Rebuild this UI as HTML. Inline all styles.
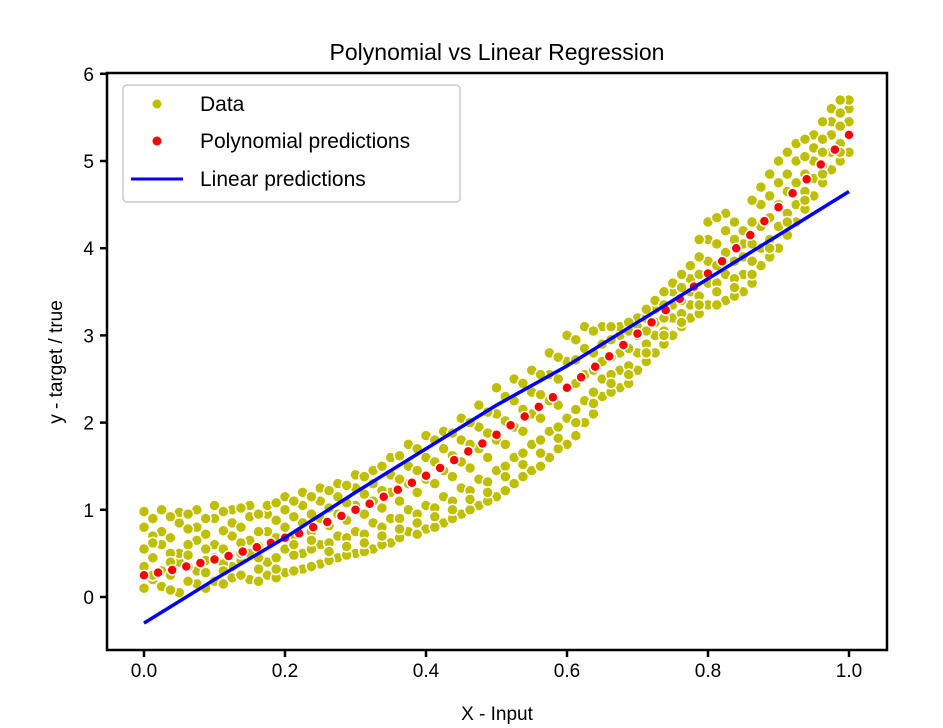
<!DOCTYPE html>
<html><head><meta charset="utf-8">
<style>
html,body{margin:0;padding:0;background:#fff;}
svg{display:block;font-family:"Liberation Sans",sans-serif;}
</style></head>
<body>
<svg id="chart" width="943" height="728" viewBox="0 0 943 728" xmlns="http://www.w3.org/2000/svg">
<rect width="943" height="728" fill="#fff"/>
<text x="497" y="60" font-size="23" text-anchor="middle" fill="#000">Polynomial vs Linear Regression</text>
<g id="plot"></g>
<rect x="107" y="73" width="780" height="577" fill="none" stroke="#000" stroke-width="2.5"/>
<g id="axes"></g>
<text x="497" y="720" font-size="19" text-anchor="middle">X - Input</text>
<text transform="translate(62,362) rotate(-90)" font-size="19" text-anchor="middle">y - target / true</text>
<g>
<rect x="123" y="85" width="337" height="117" rx="4" fill="#fff" fill-opacity="0.85" stroke="#ccc" stroke-width="1.5"/>
<circle cx="157" cy="104" r="5" fill="#bfbf00" stroke="#fff"/>
<text x="200" y="111" font-size="21">Data</text>
<circle cx="157" cy="141" r="5" fill="#ff0000" stroke="#fff"/>
<text x="200" y="148" font-size="21">Polynomial predictions</text>
<line x1="131" y1="179" x2="183" y2="179" stroke="#0000ff" stroke-width="3"/>
<text x="200" y="186" font-size="21">Linear predictions</text>
</g>
</svg>
<script>
const dataX = [0,0.025,0.05,0.075,0.1,0.125,0.15,0.175,0.2,0.225,0.25,0.275,0.3,0.325,0.35,0.375,0.4,0.425,0.45,0.475,0.5,0.525,0.55,0.575,0.6,0.625,0.65,0.675,0.7,0.725,0.75,0.775,0.8,0.825,0.85,0.875,0.9,0.925,0.95,0.975,1.0];
const dataY = [
[0.1,0.35,0.55,0.8,0.98],[0.12,0.3,0.6,0.75,1.0],[0.05,0.4,0.5,0.85,0.97],[0.15,0.3,0.65,0.8,1.0],
[0.18,0.45,0.6,0.9,1.05],[0.22,0.35,0.7,0.85,1.0],[0.2,0.5,0.65,0.92,1.05],[0.25,0.4,0.75,0.95,1.05],
[0.28,0.55,0.8,1.0,1.15],[0.32,0.5,0.85,1.05,1.2],[0.38,0.6,0.9,1.1,1.25],[0.45,0.7,0.95,1.15,1.3],
[0.5,0.75,1.05,1.25,1.4],[0.55,0.85,1.1,1.3,1.45],[0.62,0.9,1.2,1.4,1.6],[0.75,1.0,1.3,1.5,1.75],
[0.78,1.05,1.35,1.6,1.85],[0.85,1.15,1.45,1.7,1.9],[0.95,1.25,1.55,1.8,2.05],[1.05,1.35,1.7,1.95,2.2],
[1.15,1.45,1.8,2.1,2.4],[1.3,1.6,1.95,2.25,2.5],[1.45,1.75,2.1,2.35,2.6],[1.6,1.9,2.25,2.55,2.8],
[1.75,2.05,2.4,2.7,3.0],[2.0,2.25,2.55,2.85,3.1],[2.3,2.5,2.7,2.9,3.1],[2.4,2.6,2.8,3.0,3.1],
[2.6,2.8,3.0,3.1,3.2],[2.8,3.0,3.15,3.3,3.4],[3.0,3.2,3.35,3.5,3.6],[3.2,3.35,3.5,3.65,3.8],
[3.35,3.6,3.85,4.1,4.3],[3.4,3.7,3.95,4.2,4.4],[3.5,3.7,3.9,4.05,4.2],[3.8,4.0,4.25,4.5,4.7],
[4.0,4.25,4.5,4.75,5.0],[4.3,4.5,4.75,5.0,5.2],[4.6,4.8,5.0,5.15,5.3],[4.9,5.1,5.3,5.45,5.6],[5.1,5.3,5.45,5.6,5.7]];
const dataX2 = [0.0125,0.0375,0.0625,0.0875,0.1125,0.1375,0.1625,0.1875,0.2125,0.2375,0.2625,0.2875,0.3125,0.3375,0.3625,0.3875,0.4125,0.4375,0.4625,0.4875,0.5125,0.5375,0.5625,0.5875,0.6125,0.6375,0.6625,0.6875,0.7125,0.7375,0.7625,0.7875,0.8125,0.8375,0.8625,0.8875,0.9125,0.9375,0.9625,0.9875];
const dataY2 = [
[0.2,0.45,0.7,0.9,0.25,0.62],[0.08,0.25,0.5,0.68,0.92,0.4],[0.18,0.35,0.6,0.78,0.95,0.48],[0.1,0.28,0.55,0.72,0.9,0.42],
[0.15,0.38,0.55,0.76,0.98,0.3],[0.25,0.42,0.62,0.8,1.02,0.5],[0.18,0.32,0.58,0.75,0.95,0.45],[0.22,0.45,0.68,0.88,1.08,0.32],
[0.3,0.48,0.7,0.92,1.1,0.6],[0.35,0.55,0.75,0.95,1.15,0.65],[0.42,0.62,0.82,1.02,1.22,0.52],[0.48,0.68,0.88,1.08,1.28,0.58],
[0.52,0.72,0.95,1.18,1.38,0.62],[0.6,0.8,1.02,1.22,1.5,0.7],[0.68,0.9,1.1,1.35,1.62,0.78],[0.72,0.95,1.2,1.45,1.7,0.85],
[0.8,1.02,1.3,1.55,1.8,0.92],[0.9,1.1,1.38,1.62,1.88,1.0],[1.0,1.22,1.48,1.75,2.0,1.12],[1.1,1.32,1.6,1.88,2.12,1.2],
[1.22,1.5,1.75,2.02,2.3,1.38],[1.38,1.65,1.9,2.15,2.45,1.52],[1.5,1.8,2.05,2.32,2.55,1.65],[1.7,1.95,2.2,2.5,2.75,1.82],
[1.85,2.15,2.45,2.72,2.95,2.0],[2.1,2.35,2.6,2.8,3.05,2.22],[2.35,2.55,2.75,2.95,3.1,2.45],[2.45,2.65,2.85,3.05,3.15,2.55],
[2.7,2.9,3.05,3.2,3.3,2.8],[2.9,3.05,3.2,3.35,3.5,3.0],[3.1,3.25,3.4,3.55,3.7,3.15],[3.25,3.45,3.7,3.9,4.1,3.35],
[3.35,3.6,3.8,4.05,4.35,3.5],[3.45,3.65,3.85,4.1,4.3,3.55],[3.6,3.85,4.05,4.3,4.55,3.7],[3.9,4.1,4.35,4.6,4.85,4.0],
[4.15,4.4,4.65,4.85,5.1,4.3],[4.45,4.65,4.85,5.05,5.25,4.55],[4.75,4.95,5.1,5.25,5.45,4.85],[5.0,5.2,5.4,5.55,5.7,5.1]];
const polyX = [0,0.02,0.04,0.06,0.08,0.1,0.12,0.14,0.16,0.18,0.2,0.22,0.24,0.26,0.28,0.3,0.32,0.34,0.36,0.38,0.4,0.42,0.44,0.46,0.48,0.5,0.52,0.54,0.56,0.58,0.6,0.62,0.64,0.66,0.68,0.7,0.72,0.74,0.76,0.78,0.8,0.82,0.84,0.86,0.88,0.9,0.92,0.94,0.96,0.98,1.0];
const polyY = [0.25,0.28,0.31,0.35,0.39,0.43,0.47,0.52,0.57,0.62,0.68,0.73,0.8,0.86,0.93,1.0,1.07,1.15,1.23,1.31,1.39,1.48,1.57,1.67,1.76,1.86,1.97,2.07,2.18,2.29,2.4,2.52,2.64,2.76,2.89,3.02,3.15,3.29,3.42,3.56,3.71,3.85,4.0,4.15,4.31,4.47,4.63,4.79,4.96,5.13,5.3];
const linX = [0,0.1,0.2,0.3,0.4,0.5,0.6,0.7,0.8,0.9,1.0];
const linY = [-0.3,0.2,0.68,1.2,1.7,2.2,2.65,3.15,3.65,4.15,4.65];
const xTicks = [0,0.2,0.4,0.6,0.8,1.0];
const xTickLabels = ["0.0","0.2","0.4","0.6","0.8","1.0"];
const yTicks = [0,1,2,3,4,5,6];
const yTickLabels = ["0","1","2","3","4","5","6"];

const NS = "http://www.w3.org/2000/svg";
const xs = v => 144 + 705 * v;
const ys = v => 597 - 87.2 * v;
const plot = document.getElementById('plot');
const axes = document.getElementById('axes');
function mk(tag, attrs, parent){ const e = document.createElementNS(NS, tag); for (const k in attrs) e.setAttribute(k, attrs[k]); parent.appendChild(e); return e; }

function drawData(xArr, yArr){
  xArr.forEach((x, i) => {
    yArr[i].forEach(y => {
      const c = mk('circle', {cx: xs(x), cy: ys(y), r: 5.5, fill: '#bfbf00', stroke: '#fff', 'stroke-width': 1.5}, plot);
      
      
    });
  });
}
drawData(dataX, dataY);
drawData(dataX2, dataY2);
polyX.forEach((x, i) => {
  const c = mk('circle', {cx: xs(x), cy: ys(polyY[i]), r: 5, fill: '#ff0000', stroke: '#fff', 'stroke-width': 1.5}, plot);
  
  
});
const pl = mk('polyline', {points: linX.map((x, i) => xs(x) + ',' + ys(linY[i])).join(' '), fill: 'none', stroke: '#0000ff', 'stroke-width': 3.5, 'stroke-linejoin': 'round'}, plot);



xTicks.forEach((v, i) => {
  const t = mk('line', {x1: xs(v), y1: 650, x2: xs(v), y2: 657, stroke: '#000', 'stroke-width': 2.5}, axes);
  
  
  const l = mk('text', {x: xs(v), y: 677, 'font-size': 19, 'text-anchor': 'middle'}, axes);
  l.textContent = xTickLabels[i];
  
  
});
yTicks.forEach((v, i) => {
  const t = mk('line', {x1: 100, y1: ys(v), x2: 107, y2: ys(v), stroke: '#000', 'stroke-width': 2.5}, axes);
  
  
  const l = mk('text', {x: 94, y: ys(v) + 7, 'font-size': 19, 'text-anchor': 'end'}, axes);
  l.textContent = yTickLabels[i];
  
  
});
</script>
</body></html>
